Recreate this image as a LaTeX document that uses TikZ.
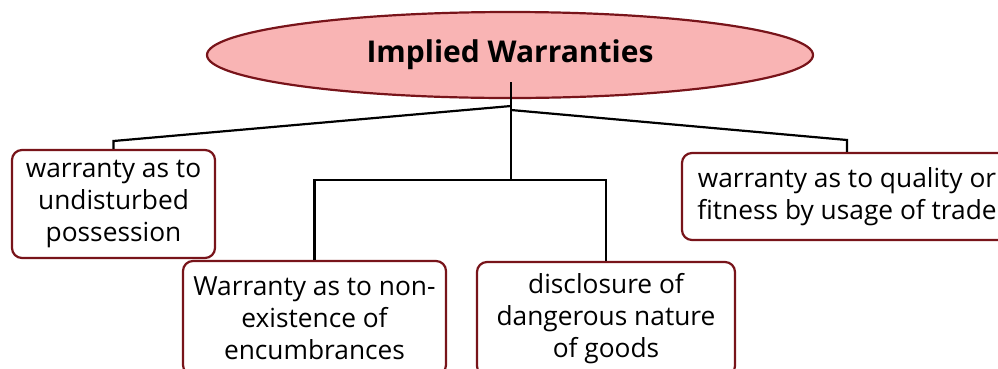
\documentclass[tikz,border=0pt]{standalone}
\usepackage{fontspec}
\setmainfont{Open Sans}
\usetikzlibrary{shapes.geometric}
\definecolor{boxred}{RGB}{120,20,26}
\definecolor{titlepink}{RGB}{249,180,180}
\tikzset{
  conn/.style={draw=black, line width=2.2pt},
  leafbox/.style={draw=boxred, line width=2.2pt, fill=white, rounded corners=10pt,
    align=center, inner sep=0pt, font=\fontsize{26.3}{32}\selectfont},
  titleshape/.style={ellipse, draw=boxred, line width=2.2pt, fill=titlepink,
    inner sep=0pt, font=\fontsize{30}{36}\selectfont\bfseries}
}
\begin{document}
\begin{tikzpicture}[x=1pt,y=-1pt]
\useasboundingbox (0,0) rectangle (998,368);
\clip (0,0) rectangle (998,368);
\node[titleshape, minimum width=606pt, minimum height=86pt] (title) at (510,55) {Implied Warranties};
\coordinate (hub) at (511,82);
\coordinate (lj) at (511,106);
\coordinate (rj) at (511,110);
\coordinate (mj) at (511,180);
\coordinate (lk) at (113.5,141);
\coordinate (rk) at (847,140);
\node[leafbox, minimum width=203pt, minimum height=108pt] (b1) at (113.5,204) {warranty as to\\undisturbed\\possession};
\node[leafbox, minimum width=263pt, minimum height=114pt] (b2) at (314.5,318) {Warranty as to non-\\existence of\\encumbrances};
\node[leafbox, minimum width=258pt, minimum height=114pt] (b3) at (606,319) {disclosure of\\dangerous nature\\of goods};
\node[leafbox, minimum width=330pt, minimum height=87pt] (b4) at (847,196.5) {warranty as to quality or\\fitness by usage of trade};
\draw[conn] (hub) -- (mj);
\draw[conn] (lj) -- (lk) -- (b1.north);
\draw[conn] (rj) -- (rk) -- (b4.north);
\draw[conn] (mj) -| (b2.north);
\draw[conn] (mj) -| (b3.north);
\end{tikzpicture}
\end{document}
